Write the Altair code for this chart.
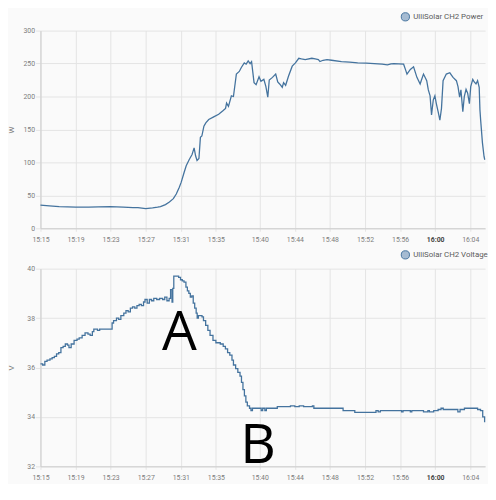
import altair as alt
import pandas as pd

DAY = "2024-01-01"

POWER_NAME = "UlliSolar CH2 Power"
VOLT_NAME = "UlliSolar CH2 Voltage"

POWER_TIMES = [
    "15:15:00", "15:16:01", "15:17:08", "15:19:02", "15:20:30", "15:21:37", "15:22:58", "15:24:26",
    "15:25:33", "15:26:07", "15:27:00", "15:27:47", "15:28:21", "15:28:41", "15:29:15", "15:29:42",
    "15:30:09", "15:30:29", "15:30:49", "15:31:03", "15:31:23", "15:31:37", "15:31:57", "15:32:17",
    "15:32:31", "15:32:41", "15:32:51", "15:33:04", "15:33:14", "15:33:24", "15:33:38", "15:33:51",
    "15:34:11", "15:34:45", "15:35:19", "15:35:46", "15:36:06", "15:36:13", "15:36:26", "15:36:46",
    "15:37:00", "15:37:20", "15:37:40", "15:37:54", "15:38:14", "15:38:27", "15:38:41", "15:38:54",
    "15:39:04", "15:39:21", "15:39:35", "15:39:55", "15:40:08", "15:40:28", "15:40:42", "15:40:55",
    "15:41:05", "15:41:27", "15:41:49", "15:42:03", "15:42:16", "15:42:34", "15:42:43", "15:42:57",
    "15:43:17", "15:43:42", "15:44:04", "15:44:27", "15:44:45", "15:45:11", "15:45:56", "15:46:19",
    "15:46:41", "15:46:52", "15:47:13", "15:47:40", "15:48:11", "15:49:19", "15:50:14", "15:51:10",
    "15:52:09", "15:53:03", "15:53:57", "15:54:33", "15:54:58", "15:55:17", "15:56:24", "15:56:38",
    "15:56:47", "15:57:10", "15:57:32", "15:57:55", "15:58:17", "15:58:26", "15:58:40", "15:59:02",
    "15:59:13", "15:59:25", "15:59:35", "15:59:47", "15:59:58", "16:00:07", "16:00:20", "16:00:32",
    "16:00:43", "16:00:54", "16:01:16", "16:01:40", "16:02:02", "16:02:25", "16:02:36", "16:02:47",
    "16:02:56", "16:03:09", "16:03:19", "16:03:31", "16:03:42", "16:03:54", "16:04:03", "16:04:17",
    "16:04:27", "16:04:39", "16:04:50", "16:05:01", "16:05:06", "16:05:11", "16:05:23", "16:05:34",
    "16:05:39",
]
POWER_VALUES = [
    35, 34, 33, 32, 32, 32.5, 33, 32,
    31.5, 31.5, 30, 31, 32, 33, 36, 40,
    45, 52, 62, 70, 85, 95, 104, 112,
    122, 110, 103, 106, 138, 140, 155, 160,
    165, 169, 173, 178, 182, 190, 185, 201,
    200, 234, 238, 244, 251, 249, 254, 250,
    253, 221, 218, 230, 223, 226, 215, 199,
    225, 229, 234, 222, 219, 214, 221, 217,
    231, 246, 251, 258, 257, 256, 258, 257,
    256, 253, 255, 256, 255, 253, 252, 251,
    250.5, 250, 249, 248, 249.5, 250, 249, 240,
    234, 241, 245, 229, 219, 225, 234, 224,
    210, 201, 172, 195, 201, 190, 177, 164,
    182, 224, 234, 236, 229, 224, 215, 199,
    210, 177, 200, 211, 205, 189, 215, 226,
    222, 219, 224, 214, 180, 164, 130, 109,
    104,
]

VOLT_TIMES = [
    "15:15:00", "15:15:15", "15:15:30", "15:15:45", "15:16:05", "15:16:20", "15:16:35", "15:16:50",
    "15:17:05", "15:17:20", "15:17:35", "15:17:50", "15:18:05", "15:18:15", "15:18:30", "15:18:50",
    "15:19:10", "15:19:25", "15:19:45", "15:20:05", "15:20:25", "15:20:40", "15:20:55", "15:21:05",
    "15:21:30", "15:21:45", "15:22:56", "15:23:10", "15:23:20", "15:23:40", "15:23:55", "15:24:10",
    "15:24:30", "15:24:45", "15:25:00", "15:25:15", "15:25:30", "15:25:45", "15:26:00", "15:26:15",
    "15:26:30", "15:26:45", "15:26:55", "15:27:10", "15:27:25", "15:27:40", "15:27:55", "15:28:15",
    "15:28:35", "15:28:55", "15:29:10", "15:29:25", "15:29:40", "15:29:50", "15:30:00", "15:30:05",
    "15:30:12", "15:30:45", "15:30:58", "15:31:10", "15:31:22", "15:31:35", "15:31:45", "15:31:55",
    "15:32:05", "15:32:15", "15:32:25", "15:32:35", "15:32:45", "15:32:52", "15:33:00", "15:33:25",
    "15:33:35", "15:33:50", "15:34:05", "15:34:20", "15:34:40", "15:35:00", "15:35:30", "15:35:50",
    "15:36:05", "15:36:20", "15:36:35", "15:36:50", "15:37:00", "15:37:15", "15:37:30", "15:37:45",
    "15:37:55", "15:38:05", "15:38:15", "15:38:25", "15:38:35", "15:38:50", "15:39:00", "15:39:10",
    "15:39:50", "15:40:10", "15:40:20", "15:40:35", "15:40:45", "15:42:00", "15:43:30", "15:44:00",
    "15:44:30", "15:45:00", "15:46:00", "15:46:10", "15:49:30", "15:50:50", "15:53:15", "15:53:30",
    "15:53:45", "15:56:00", "15:56:10", "15:56:20", "15:57:10", "15:57:20", "15:58:40", "15:59:10",
    "15:59:20", "15:59:50", "16:00:20", "16:00:40", "16:00:55", "16:02:20", "16:02:35", "16:02:50",
    "16:03:20", "16:04:50", "16:05:10", "16:05:25", "16:05:38",
]
VOLT_VALUES = [
    36.15, 36.10, 36.25, 36.30, 36.35, 36.40, 36.45, 36.55,
    36.60, 36.80, 36.85, 36.95, 36.90, 36.80, 36.95, 37.10,
    37.15, 37.20, 37.30, 37.40, 37.35, 37.30, 37.45, 37.55,
    37.50, 37.55, 37.55, 37.80, 37.90, 38.00, 37.95, 38.10,
    38.20, 38.30, 38.25, 38.40, 38.45, 38.40, 38.50, 38.55,
    38.50, 38.65, 38.75, 38.60, 38.75, 38.70, 38.80, 38.75,
    38.80, 38.75, 38.85, 38.70, 38.80, 39.15, 38.65, 39.20,
    39.70, 39.65, 39.55, 39.50, 39.45, 39.25, 39.10, 39.00,
    38.85, 38.90, 38.60, 38.40, 38.20, 38.00, 38.10, 38.05,
    37.90, 37.70, 37.50, 37.30, 37.10, 37.00, 36.95, 36.85,
    36.75, 36.60, 36.50, 36.30, 36.10, 35.95, 35.80, 35.65,
    35.40, 35.10, 34.85, 34.60, 34.45, 34.35, 34.25, 34.35,
    34.35, 34.25, 34.35, 34.25, 34.35, 34.42, 34.45, 34.42,
    34.45, 34.42, 34.45, 34.35, 34.25, 34.18, 34.25, 34.20,
    34.25, 34.25, 34.20, 34.25, 34.20, 34.25, 34.20, 34.25,
    34.20, 34.25, 34.30, 34.35, 34.30, 34.30, 34.20, 34.30,
    34.35, 34.30, 34.25, 34.00, 33.78,
]

X_TICKS = ["15:15", "15:19", "15:23", "15:27", "15:31", "15:35", "15:40",
           "15:44", "15:48", "15:52", "15:56", "16:00", "16:04"]
X_DOMAIN = ["15:15:00", "16:05:41"]
POWER_TICKS = [0, 50, 100, 150, 200, 250, 300]
VOLT_TICKS = [32, 34, 36, 38, 40]

ANNOT_LABELS = ["A", "B"]
ANNOT_TIMES = ["15:30:50", "15:39:48"]
ANNOT_VALUES = [36.71, 32.12]

LINE = "#44739e"
FILL = "#a5bbd2"
GRID = "#e3e3e3"
TXT = "#7d7d7d"


def dt(s):
    p = [int(v) for v in s.split(":")]
    while len(p) < 3:
        p.append(0)
    return alt.DateTime(year=2024, month=1, date=1, hours=p[0], minutes=p[1], seconds=p[2])


def iso(s):
    return f"{DAY}T{s}"


power_df = pd.DataFrame({"time": [iso(t) for t in POWER_TIMES], "value": POWER_VALUES, "series": POWER_NAME})
volt_df = pd.DataFrame({"time": [iso(t) for t in VOLT_TIMES], "value": VOLT_VALUES, "series": VOLT_NAME})
annot_df = pd.DataFrame({"time": [iso(t) for t in ANNOT_TIMES], "value": ANNOT_VALUES, "label": ANNOT_LABELS})

bold_cond = {"condition": {"test": "hours(datum.value) == 16 && minutes(datum.value) == 0", "value": "bold"},
             "value": "normal"}
color_cond = {"condition": {"test": "hours(datum.value) == 16 && minutes(datum.value) == 0", "value": "#444444"},
              "value": TXT}

x_axis = alt.Axis(
    values=[dt(t) for t in X_TICKS], format="%H:%M", title=None,
    labelFontWeight=bold_cond, labelColor=color_cond, labelFontSize=7, labelFont="Roboto",
    tickSize=3, tickColor=GRID, labelPadding=4, domainColor="#cccccc",
    gridColor=GRID, labelFlush=False, labelOverlap=False,
)
x_scale = alt.Scale(domain=[dt(X_DOMAIN[0]), dt(X_DOMAIN[1])])
x_enc = alt.X("time:T", scale=x_scale, axis=x_axis)


def y_axis(ticks, title):
    return alt.Axis(
        values=ticks, title=title, titleFont="Roboto", titleFontSize=8, titleFontWeight="normal",
        titleColor=TXT, titlePadding=3, labelFontSize=7, labelFont="Roboto", labelColor=TXT,
        tickSize=5, tickColor=GRID, labelPadding=1, domainColor="#cccccc", gridColor=GRID,
        minExtent=22, maxExtent=22,
    )


def legend():
    return alt.Legend(
        orient="none", legendX=366, legendY=-19, title=None, symbolType="circle",
        symbolFillColor=FILL, symbolStrokeColor=LINE, symbolStrokeWidth=1, symbolSize=70,
        labelFontSize=8, labelFont="Roboto", labelColor="#5a5a5a", padding=0, labelOffset=3,
    )


power_line = alt.Chart(power_df).mark_line(strokeWidth=1.3).encode(
    x=x_enc,
    y=alt.Y("value:Q", scale=alt.Scale(domain=[0, 300], nice=False), axis=y_axis(POWER_TICKS, "W")),
    color=alt.Color("series:N", scale=alt.Scale(domain=[POWER_NAME], range=[LINE]), legend=legend()),
)

volt_y = alt.Y("value:Q", scale=alt.Scale(domain=[32, 40], nice=False), axis=y_axis(VOLT_TICKS, "V"))

volt_line = alt.Chart(volt_df).mark_line(strokeWidth=1.3, interpolate="step-after").encode(
    x=x_enc,
    y=volt_y,
    color=alt.Color("series:N", scale=alt.Scale(domain=[VOLT_NAME], range=[LINE]), legend=legend()),
)

annot = alt.Chart(annot_df).mark_text(
    font="Open Sans", fontSize=56, color="black", align="center", baseline="alphabetic"
).encode(x=x_enc, y=volt_y, text="label:N")

top = power_line.properties(width=452, height=201)
bottom = alt.layer(volt_line, annot).properties(width=452, height=201)

chart = alt.vconcat(top, bottom, spacing=8).resolve_scale(color="independent").resolve_legend(
    color="independent"
).properties(
    padding={"left": 0, "top": 0, "right": 0, "bottom": 0},
    background="#fafafa",
).configure_view(stroke=None)

chart.save("out.html", embed_options={"renderer": "svg", "actions": False})
